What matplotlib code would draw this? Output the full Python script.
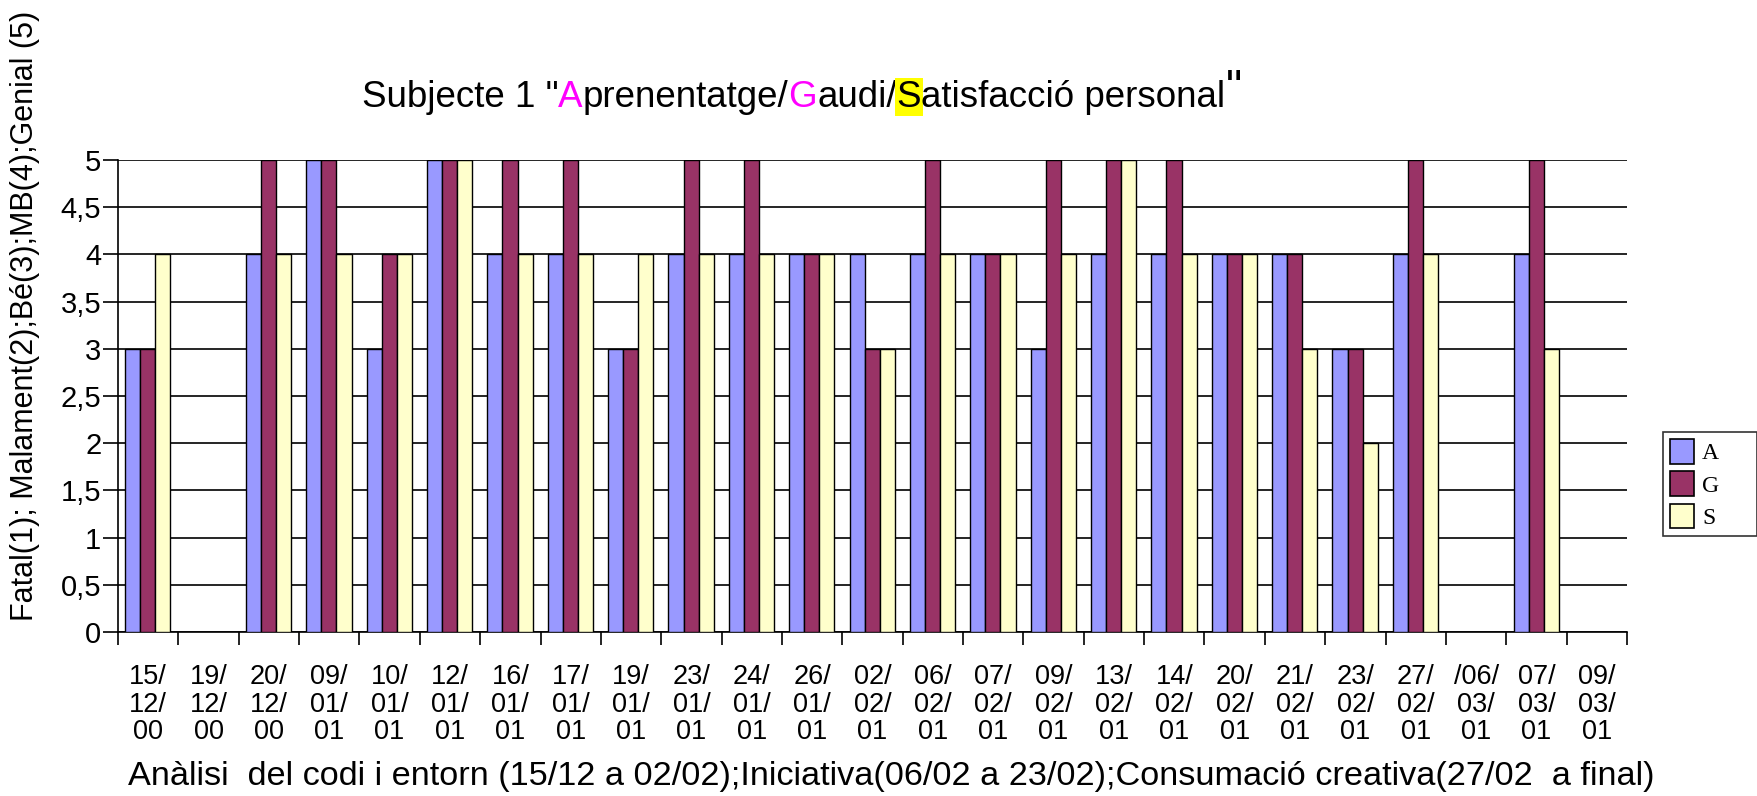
import numpy as np
import matplotlib.pyplot as plt
from matplotlib.patches import Patch

# dates of each session (3 line labels)
dates = ["15/\n12/\n00", "19/\n12/\n00", "20/\n12/\n00", "09/\n01/\n01", "10/\n01/\n01",
         "12/\n01/\n01", "16/\n01/\n01", "17/\n01/\n01", "19/\n01/\n01", "23/\n01/\n01",
         "24/\n01/\n01", "26/\n01/\n01", "02/\n02/\n01", "06/\n02/\n01", "07/\n02/\n01",
         "09/\n02/\n01", "13/\n02/\n01", "14/\n02/\n01", "20/\n02/\n01", "21/\n02/\n01",
         "23/\n02/\n01", "27/\n02/\n01", "/06/\n03/\n01", "07/\n03/\n01", "09/\n03/\n01"]

nan = np.nan
A = [3, nan, 4, 5, 3, 5, 4, 4, 3, 4, 4, 4, 4, 4, 4, 3, 4, 4, 4, 4, 3, 4, nan, 4, nan]
G = [3, nan, 5, 5, 4, 5, 5, 5, 3, 5, 5, 4, 3, 5, 4, 5, 5, 5, 4, 4, 3, 5, nan, 5, nan]
S = [4, nan, 4, 4, 4, 5, 4, 4, 4, 4, 4, 4, 3, 4, 4, 4, 5, 4, 4, 3, 2, 4, nan, 3, nan]

series_names = ["A", "G", "S"]
colors = ["#9999FF", "#993366", "#FFFFCC"]
ytick_vals = [0, 0.5, 1, 1.5, 2, 2.5, 3, 3.5, 4, 4.5, 5]
ytick_labels = ["0", "0,5", "1", "1,5", "2", "2,5", "3", "3,5", "4", "4,5", "5"]

plt.rcParams['font.family'] = ['Liberation Sans', 'DejaVu Sans']

fig = plt.figure(figsize=(17.58, 7.96), dpi=100)
ax = fig.add_axes([0.0671, 0.206, 0.8584, 0.593])

n = len(dates)
x = np.arange(n)
w = 0.25
for k, vals in enumerate([A, G, S]):
    ax.bar(x + 0.12 + k * w, vals, width=w, align='edge', color=colors[k],
           edgecolor='black', linewidth=1.0, zorder=3)

ax.set_xlim(0, n)
ax.set_ylim(0, 5)
ax.set_yticks(ytick_vals)
ax.set_yticklabels(ytick_labels, fontsize=21)
ax.yaxis.grid(True, color='black', linewidth=1.2, zorder=0)
ax.set_axisbelow(True)
ax.tick_params(axis='y', length=11, width=1.2, pad=1)

ax.set_xticks(np.arange(n + 1))
ax.set_xticklabels([])
ax.tick_params(axis='x', which='major', length=9, width=1.2)
ax.set_xticks(x + 0.5, minor=True)
ax.set_xticklabels(dates, minor=True, fontsize=19.5, linespacing=1.08)
ax.tick_params(axis='x', which='minor', length=0, pad=23)

for sp in ['top', 'right']:
    ax.spines[sp].set_visible(False)
ax.spines['left'].set_linewidth(1.2)
ax.spines['bottom'].set_linewidth(1.2)

# axis titles
fig.text(0.014, 0.603, "Fatal(1); Malament(2);Bé(3);MB(4);Genial (5)", rotation=90,
         ha='center', va='center', fontsize=22)
fig.text(0.507, 0.024, "Anàlisi  del codi i entorn (15/12 a 02/02);Iniciativa(06/02 a 23/02);"
         "Consumació creativa(27/02  a final)", ha='center', va='center', fontsize=24.7)

# multicoloured title
parts = [('Subjecte 1 "', 'black', None, 26.5),
         ('A', 'magenta', None, 26.5),
         ('prenentatge/', 'black', None, 26.5),
         ('G', 'magenta', None, 26.5),
         ('audi/', 'black', None, 26.5),
         ('S', 'black', 'yellow', 26.5),
         ('atisfacció personal', 'black', None, 26.5),
         ('"', 'black', None, 33)]
r = fig.canvas.get_renderer()
widths = []
for s, c, bg, fs in parts:
    t = fig.text(0, 0, s, fontsize=fs)
    widths.append(t.get_window_extent(renderer=r).width / fig.bbox.width)
    t.remove()
xpos = 0.456 - sum(widths) / 2
for (s, c, bg, fs), wd in zip(parts, widths):
    kw = {}
    if bg:
        kw['bbox'] = dict(facecolor=bg, edgecolor='none', pad=1)
    fig.text(xpos, 0.866 + (0.006 if fs > 27 else 0), s, color=c, fontsize=fs,
             va='baseline', **kw)
    xpos += wd

handles = [Patch(facecolor=c, edgecolor='black', linewidth=1.2) for c in colors]
leg = fig.legend(handles, series_names, loc='upper left', mode='expand',
                 bbox_to_anchor=(0.946, 0.2, 0.0535, 0.257),
                 prop={'family': 'Liberation Serif', 'size': 17}, frameon=True,
                 fancybox=False, edgecolor='black', handlelength=1.0, handleheight=1.2,
                 handletextpad=0.35, labelspacing=0.3, borderpad=0.3, borderaxespad=0)
leg.get_frame().set_linewidth(1.2)

fig.savefig("out.png", dpi=100)
